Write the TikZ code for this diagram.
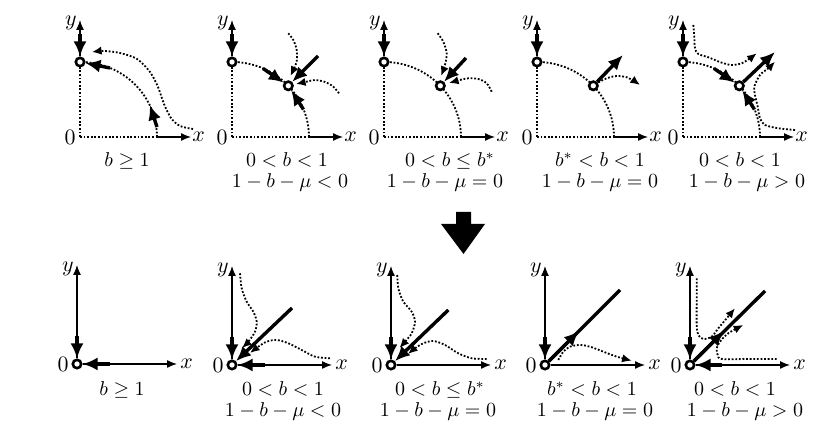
\documentclass[tikz,border=0pt]{standalone}
\usetikzlibrary{arrows.meta}
\tikzset{
 axis/.style={line width=0.65pt, -{Latex[length=5pt,width=4pt]}},
 dotline/.style={line width=0.9pt, dash pattern=on 0.9pt off 0.9pt},
 dotarrow/.style={dotline, -{Latex[length=4.8pt,width=4.2pt]}},
 thickarrow/.style={line width=1.7pt, -{Latex[length=7.5pt,width=6.5pt]}},
 thickline/.style={line width=1.7pt},
 eq/.style={circle, draw, fill=white, line width=1.3pt, inner sep=0pt, minimum size=4.2pt},
 lbl/.style={inner sep=0pt, font=\fontsize{11}{13}\selectfont},
 captext/.style={inner sep=0pt, anchor=base, font=\fontsize{9.6}{11}\selectfont},
}
\newcommand\TopAxes[1]{%
  \coordinate (#1o) at (0,0);
  \coordinate (#1yt) at (0,117);
  \coordinate (#1xs) at (77,0);
  \coordinate (#1xt) at (111,0);
  \coordinate (#1ys) at (0,103);
  \node[eq] (#1b) at (0,75) {};
  \draw[dotline] (#1o) -- (#1b);
  \draw[dotline] (#1o) -- (#1xs);
  \draw[axis] (#1b) -- (#1yt);
  \draw[axis] (#1xs) -- (#1xt);
  \draw[thickarrow] (#1ys) -- (#1b);
  \node[lbl] (#1ly) at (-9,114) {$y$};
  \node[lbl,anchor=east] (#1l0) at (-4,0) {$0$};
  \node[lbl,anchor=west] (#1lx) at (112,0) {$x$};
}
\newcommand\BotAxes[1]{%
  \node[eq] (#1o) at (0,0) {};
  \coordinate (#1yt) at (0,99);
  \coordinate (#1xt) at (100,0);
  \coordinate (#1ys) at (0,28);
  \draw[axis] (#1o) -- (#1yt);
  \draw[axis] (#1o) -- (#1xt);
  \draw[thickarrow] (#1ys) -- (#1o);
  \node[lbl] (#1ly) at (-9,95) {$y$};
  \node[lbl,anchor=east] (#1l0) at (-8,0) {$0$};
  \node[lbl,anchor=west] (#1lx) at (103,0) {$x$};
}
\newcommand\NullArc{\draw[dotline] plot[domain=0:90, samples=50] ({77*cos(\x)},{75*sin(\x)});}
\begin{document}
\begin{tikzpicture}[x=0.5pt,y=0.5pt]
\useasboundingbox (0,0) rectangle (832,426);
% ---------------- top row ----------------
\begin{scope}[shift={(80,289)}]
  \NullArc
  \TopAxes{pa}
  \draw[thickarrow] (30,69) -- (pab);
  \draw[thickarrow] (77,10) -- (69.8,32);
  \draw[dotarrow] plot[smooth] coordinates {(113,8) (100,11) (91,19) (84,33) (78,50) (70,65) (57,78) (40,84) (24,86) (12,85)};
\end{scope}
\begin{scope}[shift={(232,289)}]
  \NullArc
  \TopAxes{pb}
  \node[eq] (pbe) at (56.3,51.2) {};
  \draw[thickarrow] (31,68.5) -- (pbe);
  \draw[thickarrow] (71.5,27.5) -- (pbe);
  \draw[thickarrow] (86,81) -- (pbe);
  \draw[dotarrow] plot[smooth] coordinates {(56.3,103.7) (61.3,97) (64.7,87) (64.7,75.3) (61.3,67) (58.5,61)};
  \draw[dotarrow] plot[smooth] coordinates {(107,43.7) (101.3,50.3) (93,55) (83,57) (74.7,55.3) (64,53)};
\end{scope}
\begin{scope}[shift={(384,289)}]
  \NullArc
  \TopAxes{pc}
  \node[eq] (pce) at (56.3,51.2) {};
  \draw[thickarrow] (82,79) -- (pce);
  \draw[dotarrow] plot[smooth] coordinates {(53.7,103.7) (59.3,95.3) (62.7,83.7) (61,72) (57,61)};
  \draw[dotarrow] plot[smooth] coordinates {(107.7,45.3) (102.7,53.7) (94.3,58) (84.3,58.7) (76,57) (65,54)};
\end{scope}
\begin{scope}[shift={(537,289)}]
  \NullArc
  \TopAxes{pd}
  \node[eq] (pde) at (56.3,51.2) {};
  \draw[thickarrow] (pde) -- (86,82);
  \draw[dotarrow] plot[smooth] coordinates {(61.3,54.5) (69.7,58.7) (79.7,61) (89.7,59.7) (98,55.3) (103,52)};
\end{scope}
\begin{scope}[shift={(683,289)}]
  \NullArc
  \TopAxes{pe}
  \node[eq] (pee) at (56.3,51.2) {};
  \draw[thickarrow] (31,68.5) -- (pee);
  \draw[thickarrow] (71.5,27.5) -- (pee);
  \draw[thickarrow] (pee) -- (92,85);
  \draw[dotarrow] plot[smooth] coordinates {(10.3,112) (11.3,100.3) (12,88.7) (15.3,83) (25.3,79.7) (38.7,74.3) (48.7,72) (58.7,73.7) (67,78.7) (73.7,83.7)};
  \draw[dotarrow] plot[smooth] coordinates {(112,7) (95.3,8.7) (82,12) (77,18.7) (74.7,30.3) (72,42) (71.3,50.3) (77,62) (85.3,68.7) (92,75.3)};
\end{scope}
% captions top
\node[captext] (ca1) at (127,259) {$b\geq 1$};
\node[captext] (ca2) at (287,259) {$0<b<1$};
\node[captext] (cb2) at (290,238) {$1-b-\mu<0$};
\node[captext] (ca3) at (450,259) {$0<b\leq b^{*}$};
\node[captext] (cb3) at (445,238) {$1-b-\mu=0$};
\node[captext] (ca4) at (600,259) {$b^{*}<b<1$};
\node[captext] (cb4) at (600,238) {$1-b-\mu=0$};
\node[captext] (ca5) at (740,259) {$0<b<1$};
\node[captext] (cb5) at (747,238) {$1-b-\mu>0$};
% big arrow
\fill (456,214) -- (471,214) -- (471,202) -- (485,202) -- (463.5,172) -- (441,202) -- (456,202) -- cycle;
% ---------------- bottom row ----------------
\begin{scope}[shift={(77,62)}]
  \BotAxes{qa}
  \coordinate (qaxs) at (33,0);
  \draw[thickarrow] (qaxs) -- (qao);
\end{scope}
\begin{scope}[shift={(232,61)}]
  \BotAxes{qb}
  \coordinate (qbxs) at (33,0);
  \coordinate (qbd) at (60,57);
  \draw[thickarrow] (qbxs) -- (qbo);
  \draw[thickarrow] (qbd) -- (qbo);
  \draw[dotarrow] plot[smooth] coordinates {(8,91.7) (9.7,76.7) (14.7,63.3) (21.3,53.3) (24.7,43.3) (23,33.3) (16.3,23.3) (10,17)};
  \draw[dotarrow] plot[smooth] coordinates {(98,6.7) (83,8.3) (69.7,15) (56.3,21.7) (44.7,25) (34.7,23.3) (26.3,18.3) (18,12)};
\end{scope}
\begin{scope}[shift={(391,61)}]
  \BotAxes{qc}
  \coordinate (qcd) at (57.3,55);
  \draw[thickarrow] (qcd) -- (qco);
  \draw[dotarrow] plot[smooth] coordinates {(6.3,90) (7.3,76.7) (12.3,63.3) (20.7,53.3) (24,43.3) (20.7,31.7) (14,23.3) (8.5,17)};
  \draw[dotarrow] plot[smooth] coordinates {(95.7,6) (80.7,6.7) (67.3,11.7) (54,20) (42.3,24) (32.3,21.7) (24,16.7) (17,11)};
\end{scope}
\begin{scope}[shift={(545,61)}]
  \BotAxes{qd}
  \coordinate (qdd) at (75,75);
  \coordinate (qdm) at (34,34);
  \draw[thickline] (qdo) -- (qdd);
  \draw[thickarrow] (qdo) -- (qdm);
  \draw[dotarrow] plot[smooth] coordinates {(13.3,5) (18.3,13.3) (25,18.3) (35,20) (45,18.3) (58.3,13.3) (71.7,8.3) (86.7,4.3)};
\end{scope}
\begin{scope}[shift={(690,61)}]
  \BotAxes{qe}
  \coordinate (qexs) at (32,0);
  \coordinate (qed) at (75,74);
  \coordinate (qem) at (34,34);
  \draw[thickarrow] (qexs) -- (qeo);
  \draw[thickline] (qeo) -- (qed);
  \draw[thickarrow] (qeo) -- (qem);
  \draw[dotarrow] plot[smooth] coordinates {(6.7,86.7) (6.7,66.7) (6.7,40) (8.3,30) (13.3,26) (21.7,28.3) (28.3,36.7) (36.7,46.7) (45,56.7)};
  \draw[dotarrow] plot[smooth] coordinates {(86.7,6) (58.3,6) (31.7,6) (27.7,10) (26.7,16.7) (30,23.3) (38.3,31.7) (53.3,40)};
\end{scope}
% captions bottom
\node[captext] (da1) at (122,30) {$b\geq 1$};
\node[captext] (da2) at (283,30) {$0<b<1$};
\node[captext] (db2) at (283,9) {$1-b-\mu<0$};
\node[captext] (da3) at (440,30) {$0<b\leq b^{*}$};
\node[captext] (db3) at (438,9) {$1-b-\mu=0$};
\node[captext] (da4) at (592,30) {$b^{*}<b<1$};
\node[captext] (db4) at (595,9) {$1-b-\mu=0$};
\node[captext] (da5) at (735,30) {$0<b<1$};
\node[captext] (db5) at (745,9) {$1-b-\mu>0$};
\end{tikzpicture}
\end{document}
